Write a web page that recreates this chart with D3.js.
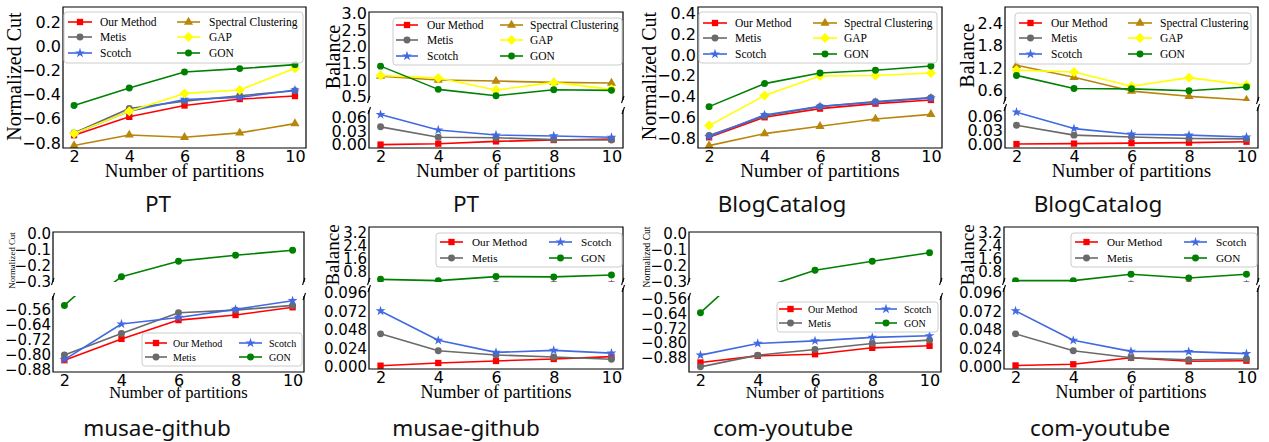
<!DOCTYPE html>
<html><head><meta charset="utf-8">
<script src="https://cdn.jsdelivr.net/npm/d3@7"></script>
<style>body{margin:0;background:#fff} svg{display:block}</style>
</head><body>
<svg id="c" width="1269" height="442"></svg>
<script>
// ---------------- DATA ----------------
const partitions = [2, 4, 6, 8, 10];

// PT - Normalized Cut
const ptCutOurs     = [-0.736, -0.584, -0.490, -0.437, -0.412];
const ptCutMetis    = [-0.717, -0.515, -0.454, -0.409, -0.368];
const ptCutScotch   = [-0.722, -0.537, -0.440, -0.423, -0.362];
const ptCutSpectral = [-0.822, -0.734, -0.753, -0.717, -0.640];
const ptCutGAP      = [-0.722, -0.537, -0.390, -0.362, -0.182];
const ptCutGON      = [-0.490, -0.346, -0.213, -0.185, -0.152];
const ptCutTicks    = [0.2, 0.0, -0.2, -0.4, -0.6, -0.8];

// PT - Balance
const ptBalOurs     = [0.000, 0.002, 0.007, 0.010, 0.012];
const ptBalMetis    = [0.039, 0.016, 0.015, 0.011, 0.010];
const ptBalScotch   = [0.066, 0.032, 0.021, 0.019, 0.016];
const ptBalSpectral = [1.12, 1.00, 0.97, 0.93, 0.91];
const ptBalGAP      = [1.14, 1.06, 0.70, 0.93, 0.72];
const ptBalGON      = [1.42, 0.72, 0.53, 0.71, 0.69];
const ptBalTopTicks = [3.0, 2.5, 2.0, 1.5, 1.0, 0.5];
const ptBalLowTicks = [0.06, 0.03, 0.00];

// BlogCatalog - Normalized Cut
const bcCutOurs     = [-0.790, -0.598, -0.515, -0.467, -0.432];
const bcCutMetis    = [-0.774, -0.586, -0.496, -0.448, -0.410];
const bcCutScotch   = [-0.784, -0.576, -0.493, -0.454, -0.413];
const bcCutSpectral = [-0.870, -0.755, -0.685, -0.614, -0.570];
const bcCutGAP      = [-0.678, -0.390, -0.202, -0.198, -0.173];
const bcCutGON      = [-0.496, -0.275, -0.173, -0.147, -0.106];
const bcCutTicks    = [0.4, 0.2, 0.0, -0.2, -0.4, -0.6, -0.8];

// BlogCatalog - Balance
const bcBalOurs     = [0.001, 0.002, 0.003, 0.004, 0.006];
const bcBalMetis    = [0.041, 0.020, 0.016, 0.013, 0.012];
const bcBalScotch   = [0.069, 0.034, 0.022, 0.020, 0.016];
const bcBalSpectral = [1.28, 0.96, 0.59, 0.45, 0.35];
const bcBalGAP      = [1.15, 1.10, 0.72, 0.95, 0.75];
const bcBalGON      = [1.01, 0.66, 0.65, 0.60, 0.70];
const bcBalTopTicks = [2.4, 1.8, 1.2, 0.6];
const bcBalLowTicks = [0.06, 0.03, 0.00];

// musae-github - Normalized Cut
const mgCutOurs     = [-0.830, -0.717, -0.617, -0.590, -0.549];
const mgCutMetis    = [-0.802, -0.688, -0.578, -0.564, -0.539];
const mgCutScotch   = [-0.827, -0.638, -0.603, -0.560, -0.514];
const mgCutGON      = [-0.539, -0.269, -0.172, -0.135, -0.104];
const mgCutTopTicks = [0.0, -0.1, -0.2, -0.3];
const mgCutLowTicks = [-0.56, -0.64, -0.72, -0.80, -0.88];

// musae-github - Balance
const mgBalOurs     = [0.0017, 0.0052, 0.0078, 0.0104, 0.0134];
const mgBalMetis    = [0.0430, 0.0210, 0.0156, 0.0130, 0.0100];
const mgBalScotch   = [0.0727, 0.0346, 0.0190, 0.0216, 0.0180];
const mgBalGON      = [0.34, 0.26, 0.51, 0.49, 0.61];
const mgBalTopTicks = [3.2, 2.4, 1.6, 0.8];
const mgBalLowTicks = [0.096, 0.072, 0.048, 0.024, 0.000];

// com-youtube - Normalized Cut
const ytCutOurs     = [-0.907, -0.871, -0.862, -0.827, -0.816];
const ytCutMetis    = [-0.931, -0.867, -0.836, -0.803, -0.785];
const ytCutScotch   = [-0.867, -0.803, -0.789, -0.770, -0.761];
const ytCutGON      = [-0.635, -0.350, -0.230, -0.174, -0.120];
const ytCutTopTicks = [0.0, -0.1, -0.2, -0.3];
const ytCutLowTicks = [-0.56, -0.64, -0.72, -0.80, -0.88];

// com-youtube - Balance
const ytBalOurs     = [0.0020, 0.0035, 0.0120, 0.0074, 0.0082];
const ytBalMetis    = [0.0430, 0.0210, 0.0120, 0.0095, 0.0104];
const ytBalScotch   = [0.0727, 0.0346, 0.0203, 0.0199, 0.0173];
const ytBalGON      = [0.26, 0.26, 0.65, 0.42, 0.65];
const ytBalTopTicks = [3.2, 2.4, 1.6, 0.8];
const ytBalLowTicks = [0.096, 0.072, 0.048, 0.024, 0.000];

// ---------------- STYLES ----------------
const styles = {
  "Our Method":          {color: "#ff0000", marker: "square"},
  "Metis":               {color: "#6a6a6a", marker: "circle"},
  "Scotch":              {color: "#4169e1", marker: "star"},
  "Spectral Clustering": {color: "#b8860b", marker: "triangle"},
  "GAP":                 {color: "#ffff00", marker: "diamond"},
  "GON":                 {color: "#008000", marker: "circle"}
};
function markerPath(type) {
  switch (type) {
    case "square": return d3.symbol(d3.symbolSquare, 40)();
    case "circle": return d3.symbol(d3.symbolCircle, 38)();
    case "star": return d3.symbol(d3.symbolStar, 30)();
    case "triangle": return d3.symbol(d3.symbolTriangle, 36)();
    case "diamond": { const r = 5; return `M0,${-r}L${r},0L0,${r}L${-r},0Z`; }
  }
}

const serif = "'Liberation Serif','Times New Roman',serif";
const sans = "'DejaVu Sans',sans-serif";
const titleFont = "'Noto Sans','Open Sans',sans-serif";

const six = (o, m, s, sp, g, n) => [["Our Method", o], ["Metis", m], ["Scotch", s], ["Spectral Clustering", sp], ["GAP", g], ["GON", n]];
const four = (o, m, s, n) => [["Our Method", o], ["Metis", m], ["Scotch", s], ["GON", n]];

const panels = [
  { x0: 63, x1: 306, tickFs: 16,
    axes: [{y0: 7, y1: 148, domain: [-0.842, 0.325], ticks: ptCutTicks, fmt: ".1f"}],
    series: six(ptCutOurs, ptCutMetis, ptCutScotch, ptCutSpectral, ptCutGAP, ptCutGON),
    ylabel: {text: "Normalized Cut", x: 21, y: 76.5, fs: 20},
    xlabel: {y: 177, fs: 19}, title: {text: "PT", x: 158, y: 212},
    legend: {x: 64, y: 12, w: 239, h: 51, rows: [22, 37, 53], cols: [[68, 92, 100], [177, 200, 209]], fs: 11.5,
             order: [["Our Method", "Metis", "Scotch"], ["Spectral Clustering", "GAP", "GON"]]} },
  { x0: 369, x1: 623, tickFs: 16,
    axes: [{y0: 12, y1: 100, domain: [0.4, 3.05], ticks: ptBalTopTicks, fmt: ".1f", part: "top"},
           {y0: 110, y1: 148, domain: [-0.0075, 0.076], ticks: ptBalLowTicks, fmt: ".2f", part: "low"}],
    series: six(ptBalOurs, ptBalMetis, ptBalScotch, ptBalSpectral, ptBalGAP, ptBalGON),
    ylabel: {text: "Balance", x: 340, y: 57, fs: 20},
    xlabel: {y: 177, fs: 19}, title: {text: "PT", x: 466, y: 212},
    legend: {x: 393, y: 18, w: 229, h: 47, rows: [25, 40, 56], cols: [[396, 418, 427], [500, 523, 530]], fs: 11.5,
             order: [["Our Method", "Metis", "Scotch"], ["Spectral Clustering", "GAP", "GON"]]} },
  { x0: 698, x1: 942, tickFs: 16,
    axes: [{y0: 7, y1: 148, domain: [-0.893, 0.46], ticks: bcCutTicks, fmt: ".1f"}],
    series: six(bcCutOurs, bcCutMetis, bcCutScotch, bcCutSpectral, bcCutGAP, bcCutGON),
    ylabel: {text: "Normalized Cut", x: 656, y: 76, fs: 20},
    xlabel: {y: 177, fs: 19}, title: {text: "BlogCatalog", x: 782, y: 212},
    legend: {x: 699, y: 12, w: 238, h: 51, rows: [23, 38, 54], cols: [[703, 727, 735], [813, 837, 844]], fs: 11.5,
             order: [["Our Method", "Metis", "Scotch"], ["Spectral Clustering", "GAP", "GON"]]} },
  { x0: 1005, x1: 1258, tickFs: 16,
    axes: [{y0: 7, y1: 101, domain: [0.325, 2.84], ticks: bcBalTopTicks, fmt: ".1f", part: "top"},
           {y0: 107, y1: 148, domain: [-0.0074, 0.08], ticks: bcBalLowTicks, fmt: ".2f", part: "low"}],
    series: six(bcBalOurs, bcBalMetis, bcBalScotch, bcBalSpectral, bcBalGAP, bcBalGON),
    ylabel: {text: "Balance", x: 974, y: 55.5, fs: 20},
    xlabel: {y: 177, fs: 19}, title: {text: "BlogCatalog", x: 1098, y: 212},
    legend: {x: 1015, y: 13, w: 236, h: 51, rows: [23, 38, 54], cols: [[1019, 1042, 1051], [1128, 1152, 1160]], fs: 11.5,
             order: [["Our Method", "Metis", "Scotch"], ["Spectral Clustering", "GAP", "GON"]]} },
  { x0: 53, x1: 304, tickFs: 15,
    axes: [{y0: 232, y1: 282, domain: [-0.302, 0.01], ticks: mgCutTopTicks, fmt: ".1f", part: "top"},
           {y0: 296, y1: 372, domain: [-0.893, -0.489], ticks: mgCutLowTicks, fmt: ".2f", part: "low"}],
    series: four(mgCutOurs, mgCutMetis, mgCutScotch, mgCutGON),
    ylabel: {text: "Normalized Cut", x: 15, y: 260.5, fs: 8.8},
    xlabel: {y: 398, fs: 16.5}, title: {text: "musae-github", x: 157, y: 436},
    legend: {x: 142, y: 333, w: 160, h: 33, rows: [343, 357], cols: [[145, 167, 173], [239, 262, 269]], fs: 10,
             order: [["Our Method", "Metis"], ["Scotch", "GON"]]} },
  { x0: 369, x1: 623, tickFs: 15,
    axes: [{y0: 227, y1: 282, domain: [0.175, 3.575], ticks: mgBalTopTicks, fmt: ".1f", part: "top"},
           {y0: 288, y1: 369, domain: [-0.0026, 0.1025], ticks: mgBalLowTicks, fmt: ".3f", part: "low"}],
    series: four(mgBalOurs, mgBalMetis, mgBalScotch, mgBalGON),
    ylabel: {text: "Balance", x: 339, y: 255, fs: 19},
    xlabel: {y: 398, fs: 18}, title: {text: "musae-github", x: 466, y: 436},
    legend: {x: 436, y: 233, w: 186, h: 34, rows: [242, 258], cols: [[440, 463, 472], [549, 572, 581]], fs: 11.2,
             order: [["Our Method", "Metis"], ["Scotch", "GON"]]} },
  { x0: 689, x1: 941, tickFs: 15,
    axes: [{y0: 232, y1: 282, domain: [-0.304, 0.01], ticks: ytCutTopTicks, fmt: ".1f", part: "top"},
           {y0: 296, y1: 372, domain: [-0.959, -0.544], ticks: ytCutLowTicks, fmt: ".2f", part: "low"}],
    series: four(ytCutOurs, ytCutMetis, ytCutScotch, ytCutGON),
    ylabel: {text: "Normalized Cut", x: 650, y: 257, fs: 9.5},
    xlabel: {y: 398, fs: 16.5}, title: {text: "com-youtube", x: 783, y: 436},
    legend: {x: 777, y: 302, w: 161, h: 30, rows: [309, 323], cols: [[779, 802, 808], [875, 897, 904]], fs: 10,
             order: [["Our Method", "Metis"], ["Scotch", "GON"]]} },
  { x0: 1004, x1: 1258, tickFs: 15,
    axes: [{y0: 227, y1: 282, domain: [0.175, 3.575], ticks: ytBalTopTicks, fmt: ".1f", part: "top"},
           {y0: 288, y1: 369, domain: [-0.0026, 0.1025], ticks: ytBalLowTicks, fmt: ".3f", part: "low"}],
    series: four(ytBalOurs, ytBalMetis, ytBalScotch, ytBalGON),
    ylabel: {text: "Balance", x: 974, y: 255, fs: 19},
    xlabel: {y: 398, fs: 18}, title: {text: "com-youtube", x: 1100, y: 436},
    legend: {x: 1071, y: 233, w: 186, h: 34, rows: [242, 258], cols: [[1075, 1098, 1107], [1184, 1207, 1216]], fs: 11.2,
             order: [["Our Method", "Metis"], ["Scotch", "GON"]]} }
];

// ---------------- DRAW ----------------
const svg = d3.select("#c");
svg.append("rect").attr("width", 1269).attr("height", 442).attr("fill", "#fff");
let clipN = 0;

function drawPanel(p) {
  const x = d3.scaleLinear().domain([1.6, 10.4]).range([p.x0, p.x1]);
  p.axes.forEach(a => {
    const y = d3.scaleLinear().domain(a.domain).range([a.y1, a.y0]);
    const id = "clip" + (clipN++);
    svg.append("clipPath").attr("id", id).append("rect")
      .attr("x", p.x0).attr("y", a.y0).attr("width", p.x1 - p.x0).attr("height", a.y1 - a.y0);
    const g = svg.append("g").attr("clip-path", `url(#${id})`);
    const line = d3.line().x((d, i) => x(partitions[i])).y(d => y(d));
    p.series.forEach(([name, vals]) => {
      const st = styles[name];
      g.append("path").datum(vals).attr("d", line).attr("fill", "none")
        .attr("stroke", st.color).attr("stroke-width", 1.6).attr("stroke-linejoin", "round");
      g.selectAll(null).data(vals).enter().append("path")
        .attr("d", markerPath(st.marker))
        .attr("transform", (d, i) => `translate(${x(partitions[i])},${y(d)})`)
        .attr("fill", st.color);
    });
    const ay = svg.append("g").attr("transform", `translate(${p.x0},0)`)
      .call(d3.axisLeft(y).tickValues(a.ticks).tickSize(0).tickPadding(2).tickFormat(d3.format(a.fmt)));
    ay.select(".domain").remove();
    ay.selectAll("text").attr("font-family", sans).attr("font-size", p.tickFs).attr("fill", "#000");
    const sp = svg.append("path").attr("fill", "none").attr("stroke", "#000").attr("stroke-width", 1.2);
    if (!a.part) {
      sp.attr("d", `M${p.x0},${a.y0}H${p.x1}V${a.y1}H${p.x0}Z`);
    } else if (a.part === "top") {
      sp.attr("d", `M${p.x0},${a.y1}V${a.y0}H${p.x1}V${a.y1}`);
      [p.x0, p.x1].forEach(xx => svg.append("path")
        .attr("d", `M${xx + 1},${a.y1 - 4}L${xx - 1.5},${a.y1 + 3}`)
        .attr("stroke", "#000").attr("stroke-width", 1.1).attr("fill", "none"));
    } else {
      sp.attr("d", `M${p.x0},${a.y0}V${a.y1}H${p.x1}V${a.y0}`);
      [p.x0, p.x1].forEach(xx => svg.append("path")
        .attr("d", `M${xx + 1.5},${a.y0 - 3}L${xx - 1},${a.y0 + 4}`)
        .attr("stroke", "#000").attr("stroke-width", 1.1).attr("fill", "none"));
    }
  });
  const bottom = p.axes[p.axes.length - 1];
  const ax = svg.append("g").attr("transform", `translate(0,${bottom.y1})`)
    .call(d3.axisBottom(x).tickValues(partitions).tickSize(0).tickPadding(3).tickFormat(d3.format("d")));
  ax.select(".domain").remove();
  ax.selectAll("text").attr("font-family", sans).attr("font-size", 16).attr("fill", "#000");

  svg.append("text").attr("x", (p.x0 + p.x1) / 2).attr("y", p.xlabel.y).attr("text-anchor", "middle")
    .attr("font-family", serif).attr("font-size", p.xlabel.fs).text("Number of partitions");
  svg.append("text").attr("transform", `translate(${p.ylabel.x},${p.ylabel.y}) rotate(-90)`)
    .attr("text-anchor", "middle").attr("font-family", serif).attr("font-size", p.ylabel.fs).text(p.ylabel.text);
  svg.append("text").attr("x", p.title.x).attr("y", p.title.y).attr("text-anchor", "middle")
    .attr("font-family", titleFont).attr("font-size", 22.5).attr("fill", "#111").text(p.title.text);

  const L = p.legend;
  svg.append("rect").attr("x", L.x).attr("y", L.y).attr("width", L.w).attr("height", L.h)
    .attr("rx", 3).attr("fill", "#fff").attr("fill-opacity", 0.8).attr("stroke", "#cccccc").attr("stroke-width", 1);
  L.order.forEach((col, ci) => {
    const [hx0, hx1, tx] = L.cols[ci];
    col.forEach((name, ri) => {
      const st = styles[name];
      const yy = L.rows[ri];
      svg.append("line").attr("x1", hx0).attr("x2", hx1).attr("y1", yy).attr("y2", yy)
        .attr("stroke", st.color).attr("stroke-width", 1.6);
      svg.append("path").attr("d", markerPath(st.marker))
        .attr("transform", `translate(${(hx0 + hx1) / 2},${yy})`).attr("fill", st.color);
      svg.append("text").attr("x", tx).attr("y", yy).attr("dy", "0.35em")
        .attr("font-family", serif).attr("font-size", L.fs).text(name);
    });
  });
}
panels.forEach(drawPanel);
</script>
</body></html>
